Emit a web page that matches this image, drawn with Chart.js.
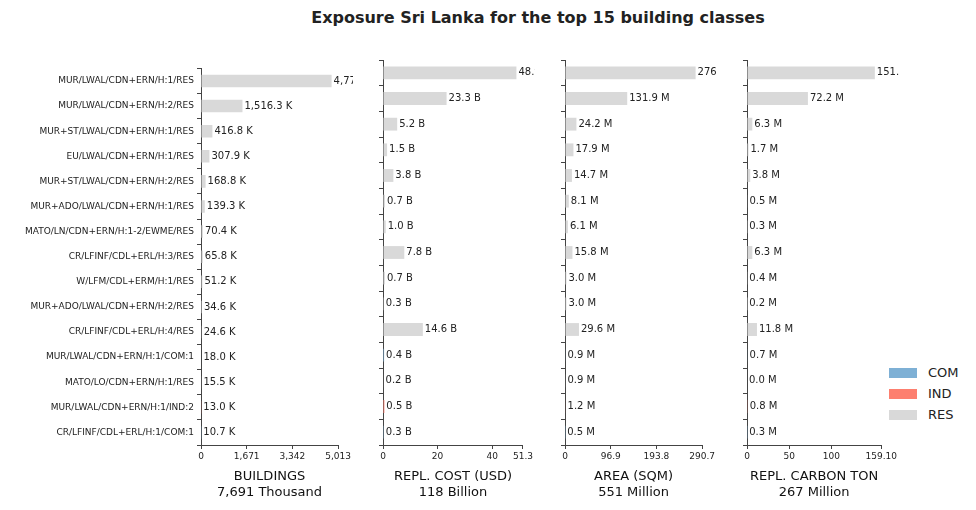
<!DOCTYPE html>
<html><head><meta charset="utf-8">
<script src="https://cdn.jsdelivr.net/npm/chart.js@4"></script>
<style>
body{margin:0;width:976px;height:510px;background:#fff;font-family:"DejaVu Sans",sans-serif;position:relative;overflow:hidden}
canvas{position:absolute}
#title{position:absolute;top:8px;left:0;width:1076px;text-align:center;font-weight:bold;font-size:16px;color:#222}
#legend{position:absolute;left:889px;top:362px;font-size:13px;color:#222}
#legend div{height:21px;display:flex;align-items:center}
#legend span{display:inline-block;width:28px;height:10px;margin-right:11px}
</style></head><body>
<div id="title">Exposure Sri Lanka for the top 15 building classes</div>
<div id="legend">
<div><span style="background:#7eb0d5"></span>COM</div>
<div><span style="background:#fd7f6f"></span>IND</div>
<div><span style="background:#d9d9d9"></span>RES</div>
</div>
<canvas id="c0"></canvas><canvas id="c1"></canvas><canvas id="c2"></canvas><canvas id="c3"></canvas>
<script>
const categories=["MUR/LWAL/CDN+ERN/H:1/RES","MUR/LWAL/CDN+ERN/H:2/RES","MUR+ST/LWAL/CDN+ERN/H:1/RES","EU/LWAL/CDN+ERN/H:1/RES","MUR+ST/LWAL/CDN+ERN/H:2/RES","MUR+ADO/LWAL/CDN+ERN/H:1/RES","MATO/LN/CDN+ERN/H:1-2/EWME/RES","CR/LFINF/CDL+ERL/H:3/RES","W/LFM/CDL+ERM/H:1/RES","MUR+ADO/LWAL/CDN+ERN/H:2/RES","CR/LFINF/CDL+ERL/H:4/RES","MUR/LWAL/CDN+ERN/H:1/COM:1","MATO/LO/CDN+ERN/H:1/RES","MUR/LWAL/CDN+ERN/H:1/IND:2","CR/LFINF/CDL+ERL/H:1/COM:1"];
const occupancy=["RES","RES","RES","RES","RES","RES","RES","RES","RES","RES","RES","COM","RES","IND","COM"];
const buildingsK=[4774.4,1516.3,416.8,307.9,168.8,139.3,70.4,65.8,51.2,34.6,24.6,18.0,15.5,13.0,10.7];
const costB=[48.9,23.3,5.2,1.5,3.8,0.7,1.0,7.8,0.7,0.3,14.6,0.4,0.2,0.5,0.3];
const areaM=[276.9,131.9,24.2,17.9,14.7,8.1,6.1,15.8,3.0,3.0,29.6,0.9,0.9,1.2,0.5];
const carbonM=[151.5,72.2,6.3,1.7,3.8,0.5,0.3,6.3,0.4,0.2,11.8,0.7,0.0,0.8,0.3];
const panels=[
 {data:buildingsK,unit:" K",title:["BUILDINGS","7,691 Thousand"],step:2000,max:5013,left:0,w:353,yw:201},
 {data:costB,unit:" B",title:["REPL. COST (USD)","118 Billion"],step:20,max:51.3,left:377,w:158,yw:6},
 {data:areaM,unit:" M",title:["AREA (SQM)","551 Million"],step:100,max:290.7,left:559,w:158,yw:6},
 {data:carbonM,unit:" M",title:["REPL. CARBON TON","267 Million"],step:50,max:159.1,left:741,w:158,yw:6}
];
const colorMap={COM:"#7eb0d5",IND:"#fd7f6f",RES:"#d9d9d9"};
const fmt=v=>v.toLocaleString("en-US",{minimumFractionDigits:1,maximumFractionDigits:1});
const labelPlugin={id:"vals",afterDatasetsDraw(ch,a,opts){
 const ctx=ch.ctx,meta=ch.getDatasetMeta(0);ctx.save();
 ctx.font="10px 'DejaVu Sans'";ctx.fillStyle="#222";ctx.textBaseline="middle";
 meta.data.forEach((b,i)=>{ctx.fillText(fmt(ch.data.datasets[0].data[i])+opts.unit,b.x+2,b.y);});
 ctx.restore();}};
panels.forEach((p,k)=>{
 const cv=document.getElementById("c"+k);
 cv.style.left=p.left+"px";cv.style.top="60px";cv.style.width=p.w+"px";cv.style.height="440px";
 new Chart(cv,{type:"bar",plugins:[labelPlugin],
  data:{labels:categories,datasets:[{data:p.data,backgroundColor:occupancy.map(o=>colorMap[o]),categoryPercentage:1,barPercentage:0.5}]},
  options:{indexAxis:"y",responsive:false,animation:false,devicePixelRatio:1,
   layout:{padding:0},
   plugins:{legend:{display:false},tooltip:{enabled:false},vals:{unit:p.unit}},
   scales:{
    x:{min:0,max:p.max,ticks:{stepSize:p.step,color:"#222",font:{size:9,family:"DejaVu Sans"},padding:2,maxRotation:0},
       grid:{drawOnChartArea:false,drawTicks:true,tickLength:4,color:"#444"},border:{color:"#444"},
       title:{display:true,text:p.title,color:"#111",font:{size:13,family:"DejaVu Sans"},padding:{top:2,bottom:0}},
       afterFit(s){s.height=55;}},
    y:{ticks:{display:k===0,color:"#222",font:{size:9,family:"DejaVu Sans"},padding:3,autoSkip:false},
       grid:{drawOnChartArea:false,drawTicks:true,tickLength:4,color:"#444"},border:{color:"#444"},
       afterFit(s){s.width=p.yw;}}
   }}});
 cv.style.left=p.left+"px";cv.style.top="60px";
});
</script></body></html>
